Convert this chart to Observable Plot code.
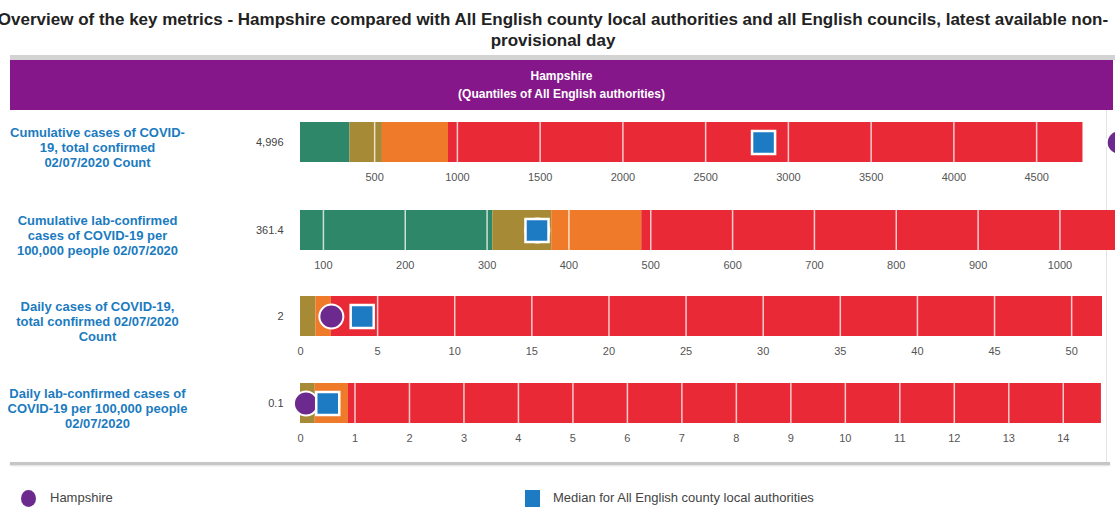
<!DOCTYPE html>
<html>
<head>
<meta charset="utf-8">
<script src="https://cdn.jsdelivr.net/npm/d3@7"></script>
<script src="https://cdn.jsdelivr.net/npm/@observablehq/plot@0.6"></script>
<style>
  html, body { margin: 0; padding: 0; background: #fff; overflow: hidden; }
  body { width: 1115px; height: 524px; position: relative; font-family: "Liberation Sans", Arial, sans-serif; }
  .abs { position: absolute; }
  #title { left: -12px; width: 1130px; top: 9px; text-align: center; font-weight: bold; font-size: 17px; line-height: 21px; color: #222; white-space: nowrap; }
  #strip { left: 10px; top: 55px; width: 1105px; height: 5px; background: #d3d3d3; }
  #header { left: 10px; top: 60px; width: 1103px; height: 50px; background: #85178b; color: #fff; text-align: center; font-weight: bold; font-size: 12px; line-height: 18px; box-sizing: border-box; padding-top: 7px; }
  #rightBorder { left: 1106px; top: 110px; width: 1px; height: 352px; background: #e4e4e4; }
  #bottomLine { left: 10px; top: 462px; width: 1100px; height: 3px; background: #c6c6c6; box-shadow: 0 1px 2px #ddd; }
  .legtext { font-size: 13px; color: #444; line-height: 16px; }
</style>
</head>
<body>
<script>
// ---------- data ----------
const titleLine1 = "Overview of the key metrics - Hampshire compared with All English county local authorities and all English councils, latest available non-";
const titleLine2 = "provisional day";
const headerLine1 = "Hampshire";
const headerLine2 = "(Quantiles of All English authorities)";

const metricLabels = [
  "Cumulative cases of COVID-\n19, total confirmed\n02/07/2020 Count",
  "Cumulative lab-confirmed\ncases of COVID-19 per\n100,000 people 02/07/2020",
  "Daily cases of COVID-19,\ntotal confirmed 02/07/2020\nCount",
  "Daily lab-confirmed cases of\nCOVID-19 per 100,000 people\n02/07/2020"
];
const hampshireValues = [4996, 361.4, 2, 0.1];
const hampshireLabels = ["4,996", "361.4", "2", "0.1"];
const quantileMin = [52, 72, 0, 0];
const quantile1 = [351, 307, 0, 0];
const quantile2 = [547, 379, 1, 0.27];
const quantile3 = [946, 489, 2, 0.88];
const quantileMax = [4780, 1150, 52, 14.7];
const medianValues = [2850, 361, 4, 0.5];
const axisMax = [4898, 1052, 52, 14.72];
const tickValues = [
  [500, 1000, 1500, 2000, 2500, 3000, 3500, 4000, 4500],
  [100, 200, 300, 400, 500, 600, 700, 800, 900, 1000],
  [0, 5, 10, 15, 20, 25, 30, 35, 40, 45, 50],
  [0, 1, 2, 3, 4, 5, 6, 7, 8, 9, 10, 11, 12, 13, 14]
];
const quantileNames = ["Q1", "Q2", "Q3", "Q4"];
const quantileColors = ["#2e8769", "#a68a35", "#ef7a2a", "#e92a36"];
const legendLabels = ["Hampshire", "Median for All English county local authorities"];

// ---------- colours / layout ----------
const purple = "#6c2a8e";
const blue = "#1d7bc4";
const labelBlue = "#1b7bbf";
const rowTops = [122, 210, 296, 383];
const barH = 40, mTop = 8, mBottom = 30;

function el(tag, cls, id, html) {
  const e = document.createElement(tag);
  if (cls) e.className = cls;
  if (id) e.id = id;
  if (html != null) e.innerHTML = html;
  document.body.appendChild(e);
  return e;
}

el("div", "abs", "title", titleLine1 + "<br>" + titleLine2);
el("div", "abs", "strip");
el("div", "abs", "header", headerLine1 + "<br>" + headerLine2);
el("div", "abs", "rightBorder");
el("div", "abs", "bottomLine");

metricLabels.forEach((label, i) => {
  const segs = quantileNames.map((q, k) => ({
    q,
    x1: [quantileMin, quantile1, quantile2, quantile3][k][i],
    x2: [quantile1, quantile2, quantile3, quantileMax][k][i]
  }));
  const gridTicks = tickValues[i].filter(t => t > quantileMin[i]);
  const svg = Plot.plot({
    width: 1115,
    height: mTop + barH + mBottom,
    marginTop: mTop,
    marginBottom: mBottom,
    marginLeft: 300,
    marginRight: 13,
    style: { fontFamily: "Liberation Sans, Arial, sans-serif", fontSize: "11px", color: "#555", background: "transparent", overflow: "hidden" },
    x: {
      domain: [quantileMin[i], axisMax[i]],
      ticks: tickValues[i],
      tickSize: 0,
      tickPadding: 11,
      tickFormat: d => String(d),
      label: null
    },
    color: { domain: quantileNames, range: quantileColors },
    marks: [
      Plot.barX(segs, { x1: "x1", x2: "x2", fill: "q" }),
      Plot.gridX(gridTicks, { stroke: "white", strokeOpacity: 0.75, strokeWidth: 1.5 }),
      Plot.dot([hampshireValues[i]], { x: d => d, r: 12, fill: purple, stroke: "white", strokeWidth: 2 }),
      Plot.dot([medianValues[i]], { x: d => d, symbol: "square", r: 13, fill: blue, stroke: "white", strokeWidth: 2.5 }),
      Plot.text([hampshireLabels[i]], { frameAnchor: "left", dx: -17, text: d => d, textAnchor: "end", fill: "#444", fontSize: 11 }),
      Plot.text([label], { frameAnchor: "left", dx: -203, dy: 5, text: d => d, textAnchor: "middle", fill: labelBlue, fontWeight: "bold", fontSize: 13, lineHeight: 1.16 })
    ]
  });
  svg.style.position = "absolute";
  svg.style.left = "0px";
  svg.style.top = (rowTops[i] - mTop) + "px";
  document.body.appendChild(svg);
});

// legend
const c = el("div", "abs");
Object.assign(c.style, { left: "21px", top: "490px", width: "15px", height: "17px", borderRadius: "50%", background: purple });
const t1 = el("div", "abs legtext", null, legendLabels[0]);
Object.assign(t1.style, { left: "50px", top: "490px" });
const s = el("div", "abs");
Object.assign(s.style, { left: "525px", top: "490px", width: "15px", height: "17px", background: blue });
const t2 = el("div", "abs legtext", null, legendLabels[1]);
Object.assign(t2.style, { left: "553px", top: "490px" });
</script>
</body>
</html>
